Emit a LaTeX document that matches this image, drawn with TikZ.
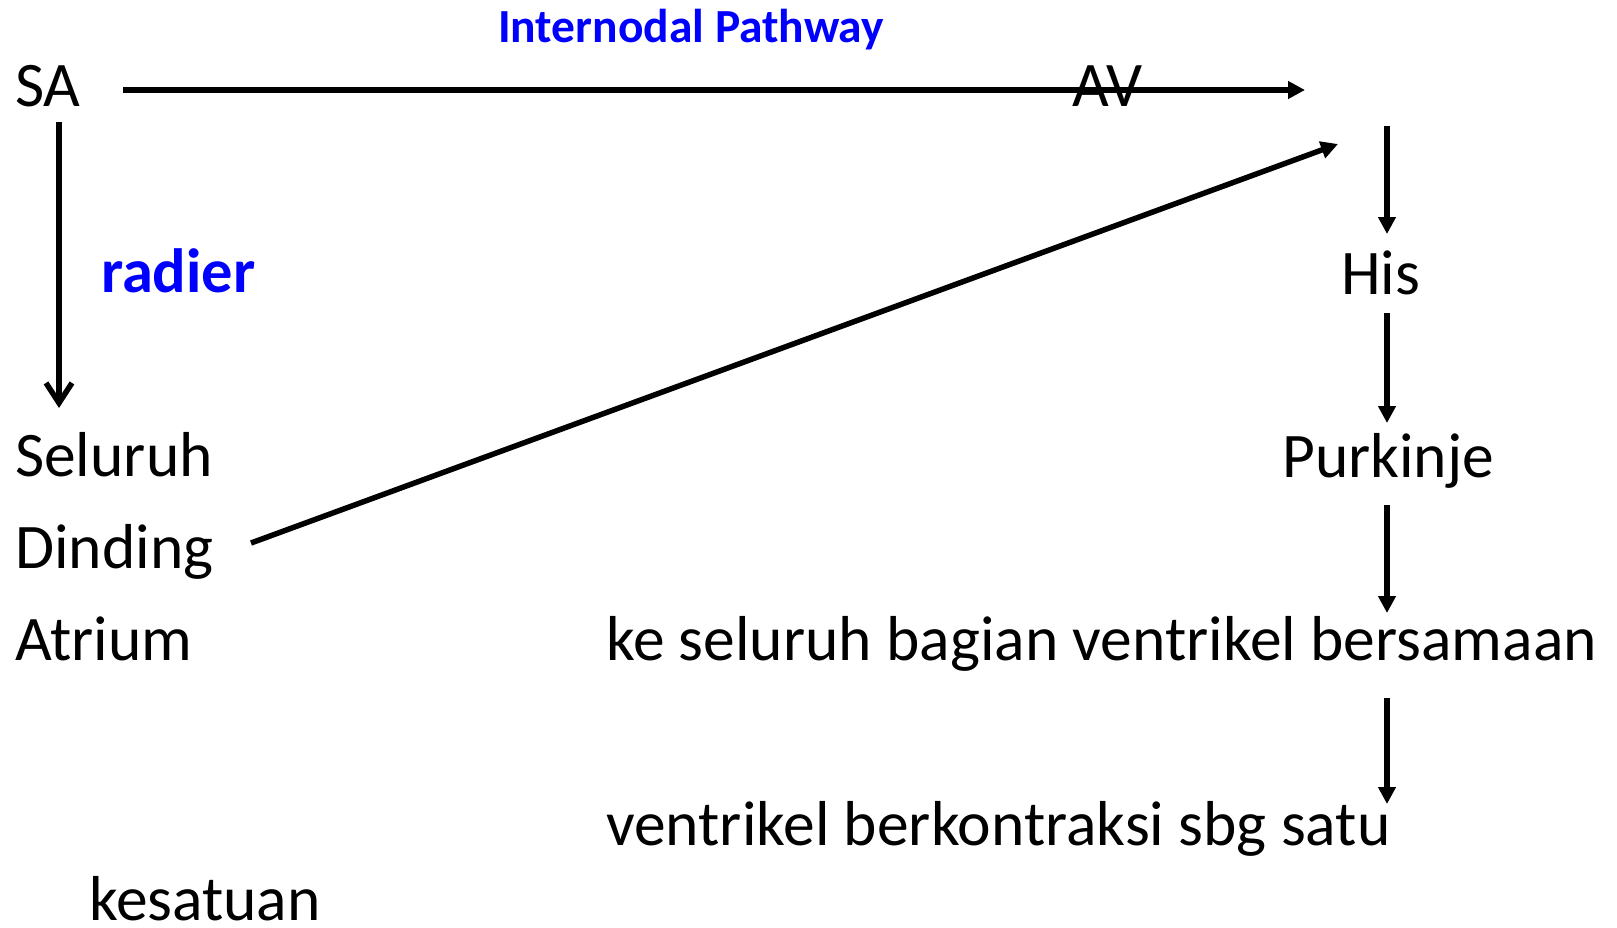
\documentclass[tikz,border=0pt]{standalone}
\usepackage{fontspec}
\setmainfont{Carlito}
\usetikzlibrary{arrows.meta,positioning}
\definecolor{pathblue}{RGB}{0,0,255}

\begin{document}
\begin{tikzpicture}[x=1pt,y=-1pt,
  word/.style={anchor=base west,inner sep=0pt,font=\fontsize{63.5}{76}\selectfont},
  tag/.style={anchor=base west,inner sep=0pt,text=pathblue,font=\bfseries\fontsize{#1}{#1}\selectfont},
  flow/.style={line width=5.5pt,-{Triangle[length=17pt,width=17pt]}},
  spread/.style={line width=5.5pt,-{Straight Barb[length=20pt,width=26pt]}}]
\useasboundingbox (0,0) rectangle (1617,927);
% texts
\node[word] (sa) at (15,106) {SA};
\node[word] (av) at (1072,106) {AV};
\node[tag=47.5] (internodal) at (498,42) {Internodal Pathway};
\node[tag=62.5] (radier) at (101,292) {radier};
\node[word] (seluruh) at (15,476) {Seluruh};
\node[word] (dinding) at (15,568) {Dinding};
\node[word] (atrium) at (15,660) {Atrium};
\node[word] (his) at (1341,294) {His};
\node[word] (purkinje) at (1282,477) {Purkinje};
\node[word] (ventrikel) at (606,660) {ke seluruh bagian ventrikel bersamaan};
\node[word] (kontraksi) at (606,845) {ventrikel berkontraksi sbg satu};
\node[word] (kesatuan) at (89,920) {kesatuan};
% arrow ends
\coordinate (sa-r) at (123,90);
\coordinate (av-r) at (1305,90);
\coordinate (sa-d) at (59,122);
\coordinate (atr-top) at (59,408);
\coordinate (din-r) at (251,543);
\coordinate (av-in) at (1338,144);
\foreach \name/\ya/\yb in {a/126/234,b/313/423,c/505/613,d/698/804}{
  \coordinate (\name-top) at (1387,\ya);
  \coordinate (\name-bot) at (1387,\yb);
}
% connectors
\draw[flow] (sa-r) -- (av-r);
\draw[spread] (sa-d) -- (atr-top);
\draw[flow] (din-r) -- (av-in);
\draw[flow] (a-top) -- (a-bot);
\draw[flow] (b-top) -- (b-bot);
\draw[flow] (c-top) -- (c-bot);
\draw[flow] (d-top) -- (d-bot);
\end{tikzpicture}
\end{document}
